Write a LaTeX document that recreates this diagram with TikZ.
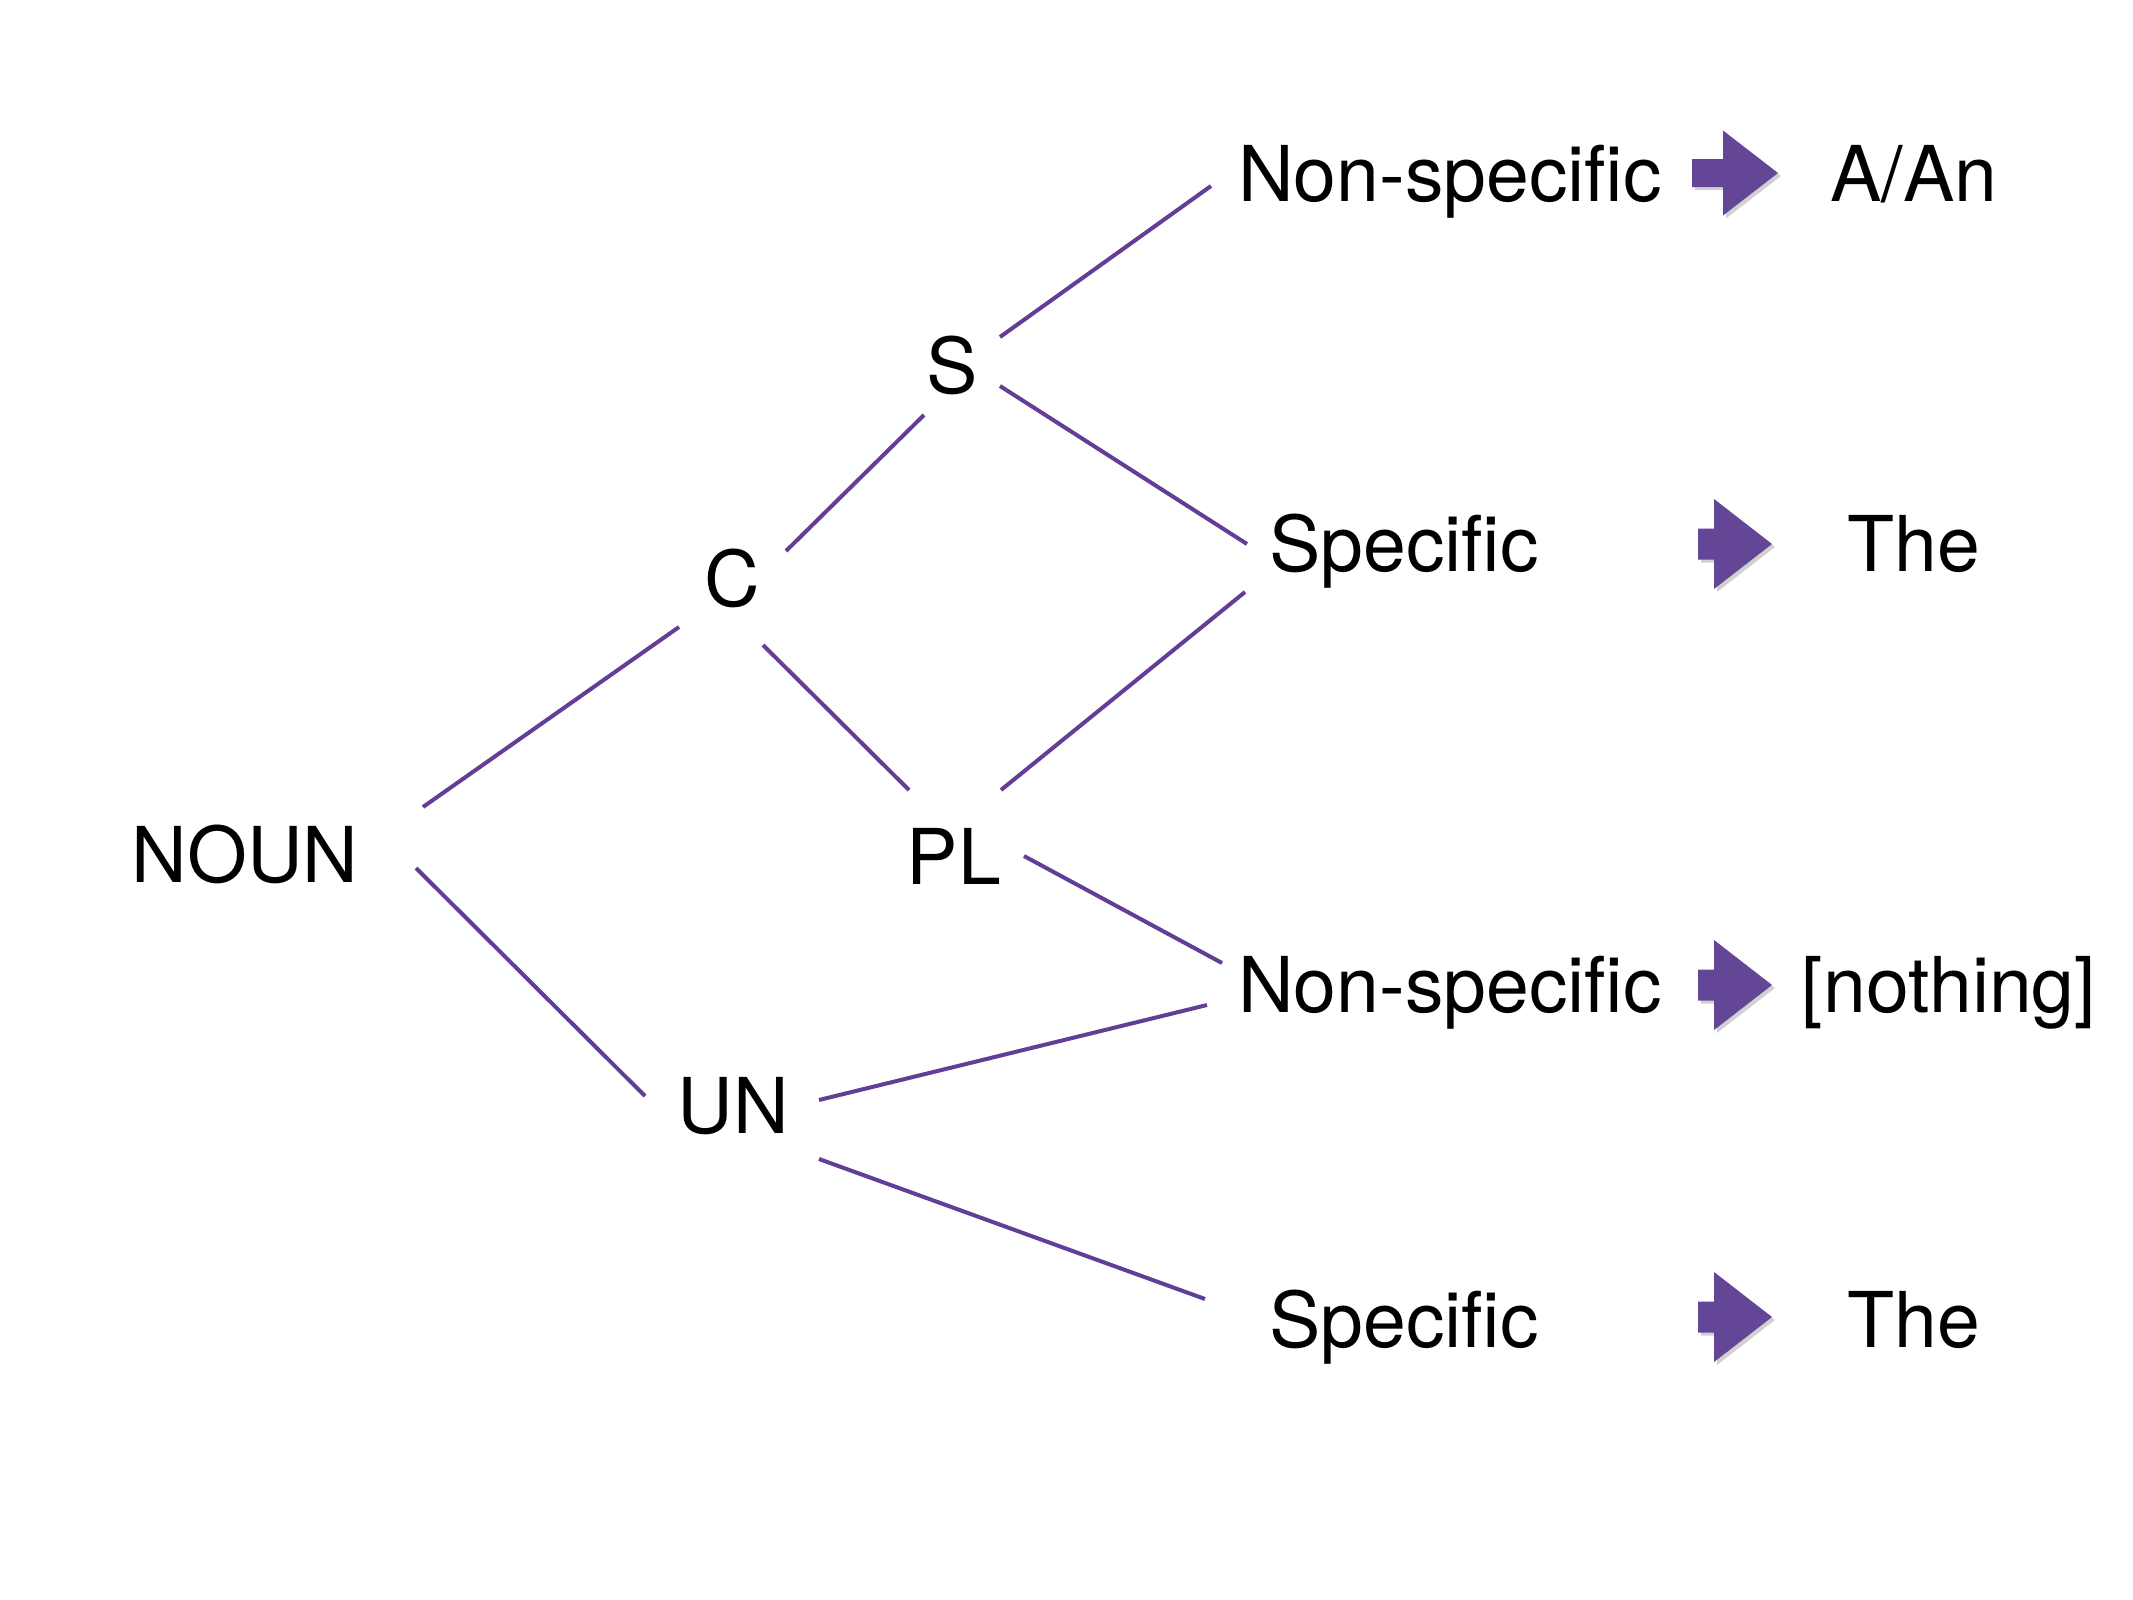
\documentclass[tikz,border=0pt]{standalone}
\usepackage{fontspec}
\setmainfont{TeX Gyre Heros}
\definecolor{tpurple}{RGB}{98,62,150}
\definecolor{apurple}{RGB}{100,70,150}
\begin{document}
\begin{tikzpicture}[x=1pt,y=-1pt,
  lbl/.style={font=\fontsize{77}{92}\selectfont, inner sep=0pt, anchor=base},
  edge/.style={draw=tpurple, line width=4pt},
  pics/blockarrow/.style={code={
    \fill[black!45, opacity=0.4] (-40,-11) -- (-9,-11) -- (-9,-39.5) -- (46,3) -- (-9,45.5) -- (-9,17) -- (-40,17) -- cycle;
    \fill[apurple] (-43,-14) -- (-12,-14) -- (-12,-42.5) -- (43,0) -- (-12,42.5) -- (-12,14) -- (-43,14) -- cycle;
  }},
  pics/shortarrow/.style={code={
    \fill[black!45, opacity=0.4] (-34,-12.5) -- (-18,-12.5) -- (-18,-42) -- (40,3) -- (-18,48) -- (-18,18.5) -- (-34,18.5) -- cycle;
    \fill[apurple] (-37,-15.5) -- (-21,-15.5) -- (-21,-45) -- (37,0) -- (-21,45) -- (-21,15.5) -- (-37,15.5) -- cycle;
  }}]
\fill[white] (0,0) rectangle (2133,1600);
\useasboundingbox (0,0) rectangle (2133,1600);

% nodes
\node[lbl] (noun) at (245,882) {NOUN};
\node[lbl] (c) at (732,606) {C};
\node[lbl] (s) at (952,393) {S};
\node[lbl] (pl) at (954,884) {PL};
\node[lbl] (un) at (733,1133) {UN};
\node[lbl] (ns1) at (1450,201) {Non-specific};
\node[lbl] (sp1) at (1404,571) {Specific};
\node[lbl] (ns2) at (1450,1012) {Non-specific};
\node[lbl] (sp2) at (1404,1347) {Specific};
\node[lbl] (aan) at (1914,201) {A/An};
\node[lbl] (the1) at (1914,571) {The};
\node[lbl] (noth) at (1949,1012) {[nothing]};
\node[lbl] (the2) at (1914,1347) {The};

% arrows
\pic (ar1) at (1735,173) {blockarrow};
\pic (ar2) at (1735,544) {shortarrow};
\pic (ar3) at (1735,985) {shortarrow};
\pic (ar4) at (1735,1317) {shortarrow};

% connector end points
\coordinate (nounC) at (423,807);   \coordinate (cNoun) at (679,627);
\coordinate (nounU) at (416,868);   \coordinate (uNoun) at (645,1096);
\coordinate (cS) at (786,551);      \coordinate (sC) at (924,415);
\coordinate (cPL) at (763,645);     \coordinate (plC) at (909,790);
\coordinate (sNS) at (1000,337);    \coordinate (nsS) at (1211,186);
\coordinate (sSp) at (1000,386);    \coordinate (spS) at (1247,544);
\coordinate (plSp) at (1001,790);   \coordinate (spPL) at (1245,592);
\coordinate (plNS) at (1024,856);   \coordinate (nsPL) at (1222,963);
\coordinate (unNS) at (819,1100);   \coordinate (nsUN) at (1207,1005);
\coordinate (unSp) at (819,1159);   \coordinate (spUN) at (1205,1299);

\draw[edge] (nounC) -- (cNoun);
\draw[edge] (nounU) -- (uNoun);
\draw[edge] (cS) -- (sC);
\draw[edge] (cPL) -- (plC);
\draw[edge] (sNS) -- (nsS);
\draw[edge] (sSp) -- (spS);
\draw[edge] (plSp) -- (spPL);
\draw[edge] (plNS) -- (nsPL);
\draw[edge] (unNS) -- (nsUN);
\draw[edge] (unSp) -- (spUN);
\end{tikzpicture}
\end{document}
